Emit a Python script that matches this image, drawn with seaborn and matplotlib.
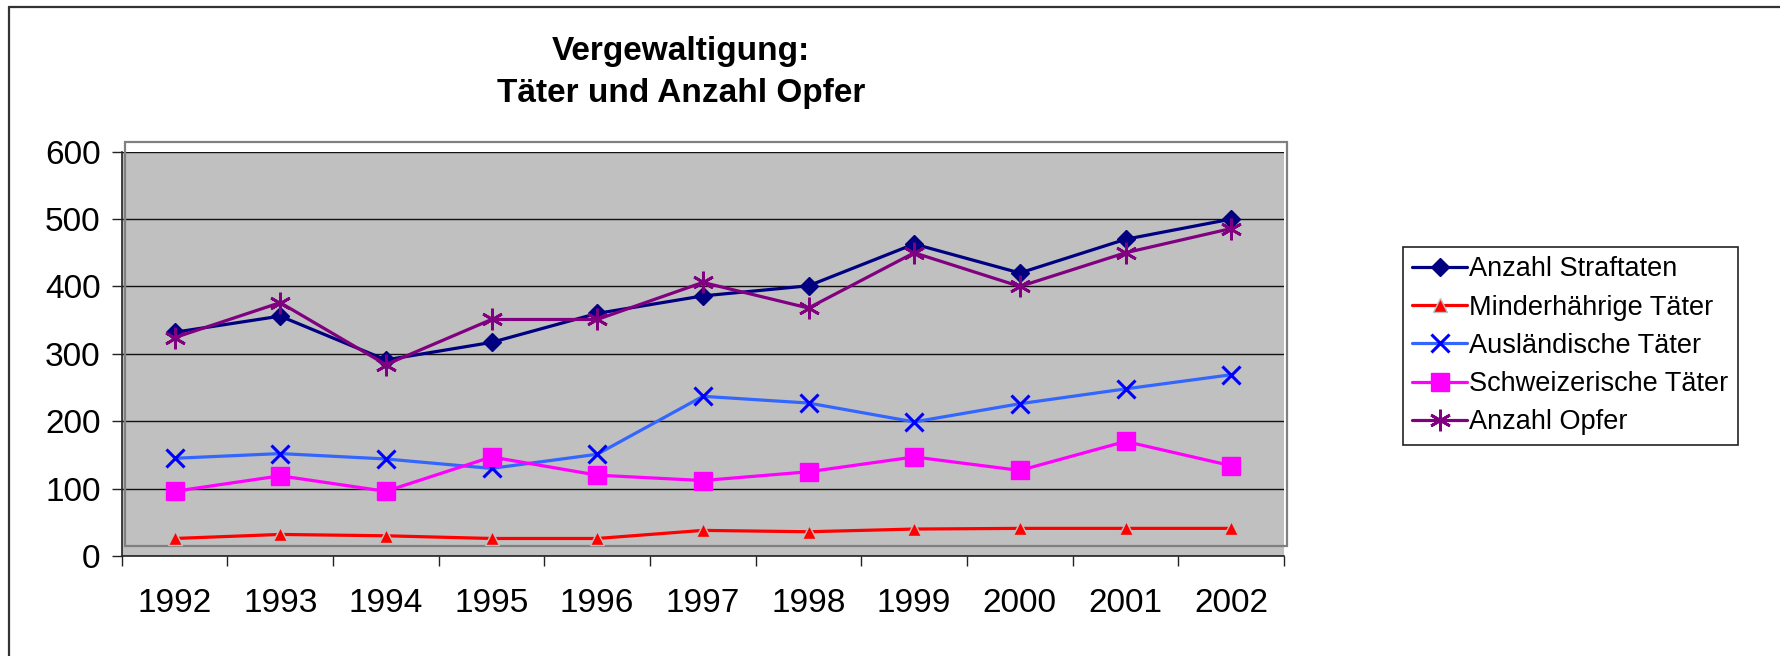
import matplotlib
matplotlib.use("Agg")
import matplotlib.pyplot as plt
import matplotlib.transforms as mtransforms
from matplotlib.patches import Rectangle
from matplotlib.lines import Line2D
import seaborn as sns

years = ["1992", "1993", "1994", "1995", "1996", "1997",
         "1998", "1999", "2000", "2001", "2002"]

straftaten = [332, 356, 291, 317, 360, 386, 401, 463, 420, 470, 500]
minderjaehrige = [26, 32, 30, 26, 26, 38, 36, 40, 41, 41, 41]
auslaendische = [145, 152, 144, 130, 151, 237, 227, 199, 226, 248, 269]
schweizerische = [96, 119, 96, 147, 120, 112, 125, 147, 127, 170, 134]
opfer = [324, 376, 284, 351, 351, 406, 368, 450, 400, 450, 486]

series_names = ["Anzahl Straftaten", "Minderhährige Täter", "Ausländische Täter",
                "Schweizerische Täter", "Anzahl Opfer"]
y_ticks = [0, 100, 200, 300, 400, 500, 600]

W, H = 1780, 656
sns.set_theme(style="white")
plt.rcParams["font.family"] = ["Liberation Sans", "DejaVu Sans"]
for k in ["text.color", "axes.labelcolor", "xtick.color", "ytick.color"]:
    plt.rcParams[k] = "black"

fig = plt.figure(figsize=(W / 100, H / 100), dpi=100)

# outer chart border (only top and left are inside the picture)
fig.add_artist(Line2D([9 / W, 1.0], [1 - 7 / H, 1 - 7 / H], color="#333333", lw=1.6))
fig.add_artist(Line2D([9 / W, 9 / W], [1 - 7 / H, 0.0], color="#333333", lw=1.6))

# plot area in pixels
left, right, top, bottom = 121.7, 1284, 151.7, 556
ax = fig.add_axes([left / W, 1 - bottom / H, (right - left) / W, (bottom - top) / H])
ax.set_facecolor("#c0c0c0")

x = list(range(len(years)))

styles = [
    (straftaten, "#000080", "D", 9, "#000080", 1),
    (minderjaehrige, "#ff0000", "^", 10, "#c0c0c0", 1),
    (auslaendische, "#3366ff", "x", 13.5, "#0000ff", 2.2),
    (schweizerische, "#ff00ff", "s", 13, "#ff00ff", 1),
    (opfer, "#800080", (6, 2, 0), 15.5, "#800080", 2),
]
handles = []
for (vals, col, mk, ms, mec, mew), name in zip(styles, series_names):
    mfc = mec if mk == "x" else col
    sns.lineplot(x=x, y=vals, color=col, marker=mk, markersize=ms,
                 markeredgecolor=mec, markerfacecolor=mfc,
                 markeredgewidth=mew, lw=2.3, ax=ax, label=name, zorder=3)
    handles.append(Line2D([], [], color=col, marker=mk, markersize=ms,
                          markeredgecolor=mec, markeredgewidth=mew,
                          markerfacecolor=mfc, lw=2.3))

ax.set_xlim(-0.5, len(years) - 0.5)
ax.set_ylim(0, 600)
ax.set_yticks(y_ticks)
ax.set_yticklabels([str(v) for v in y_ticks])
ax.set_xticks([i - 0.5 for i in range(len(years) + 1)])
ax.set_xticklabels([])
ax.set_xticks(x, minor=True)
ax.set_xticklabels(years, minor=True)
ax.grid(axis="y", color="#111111", lw=1.0)
ax.grid(axis="x", visible=False)
ax.set_axisbelow(True)
ax.set_xlabel("")
ax.set_ylabel("")

for s in ["top", "right"]:
    ax.spines[s].set_visible(False)
for s in ["left", "bottom"]:
    ax.spines[s].set_color("#222222")
    ax.spines[s].set_linewidth(1.2)

ax.tick_params(axis="y", which="major", direction="out", length=7.2, width=1,
               color="#222222", labelsize=24, pad=8, left=True)
ax.tick_params(axis="x", which="major", direction="out", length=7.2, width=1,
               color="#222222", bottom=True)
ax.tick_params(axis="x", which="minor", length=0, labelsize=24, pad=23)

# 3D-like back wall outline, shifted up and right
wall_tr = ax.transAxes + mtransforms.ScaledTranslation(3 / 100, 10 / 100, fig.dpi_scale_trans)
ax.add_patch(Rectangle((0, 0), 1, 1, transform=wall_tr, fill=False,
                       edgecolor="#808080", lw=1.6, clip_on=False, zorder=1.6))
ax.add_patch(Rectangle((0, 1), 1, 10 / (bottom - top), transform=wall_tr, facecolor="white",
                       edgecolor="none", clip_on=False, zorder=0.5))

leg = ax.legend(handles=handles, labels=series_names, loc="upper left",
                bbox_to_anchor=(1403 / W, 1 - 247 / H), bbox_transform=fig.transFigure,
                borderaxespad=0, fontsize=19.5, frameon=True, fancybox=False,
                edgecolor="#222222", facecolor="white", framealpha=1,
                handlelength=2.0, handletextpad=0.1, labelspacing=0.45,
                borderpad=0.35)
leg.get_frame().set_linewidth(1.2)

title_x = 681 / W
fig.text(title_x, 1 - 60 / H, "Vergewaltigung:", ha="center", va="baseline",
         fontsize=24, fontweight="bold")
fig.text(title_x, 1 - 102 / H, "Täter und Anzahl Opfer", ha="center", va="baseline",
         fontsize=24, fontweight="bold")

fig.savefig("out.png", dpi=100, facecolor="white")
plt.close(fig)
